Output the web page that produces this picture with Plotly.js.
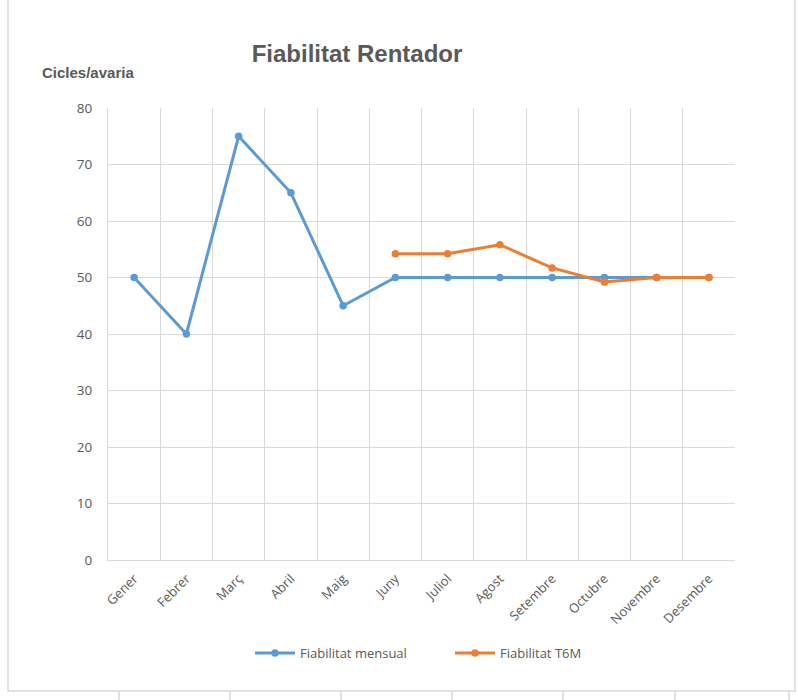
<!DOCTYPE html>
<html>
<head>
<meta charset="utf-8">
<script src="https://cdn.plot.ly/plotly-3.0.1.min.js"></script>
<style>html,body{margin:0;padding:0;background:#fff;}#chart{width:798px;height:700px;}</style>
</head>
<body>
<div id="chart"></div>
<script>
const months = ["Gener","Febrer","Març","Abril","Maig","Juny","Juliol","Agost","Setembre","Octubre","Novembre","Desembre"];
const mensual = [50, 40, 75, 65, 45, 50, 50, 50, 50, 50, 50, 50];
const t6mMonths = ["Juny","Juliol","Agost","Setembre","Octubre","Novembre","Desembre"];
const t6m = [54.2, 54.2, 55.8, 51.7, 49.2, 50, 50];
const yTicks = [0, 10, 20, 30, 40, 50, 60, 70, 80];

const W = 798, H = 700, L = 108, R = 63, T = 108, B = 140;
const pw = W - L - R, ph = H - T - B;
const px = x => (x - L) / pw;
const py = y => (H - B - y) / ph;

const gridC = "#d9d9d9";
const txtC = "#595959";

const traces = [
  {x: months, y: mensual, name: "Fiabilitat mensual", type: "scatter", mode: "lines+markers",
   line: {color: "#5b9bd5", width: 3}, marker: {color: "#5b9bd5", size: 7.5}},
  {x: t6mMonths, y: t6m, name: "Fiabilitat T6M", type: "scatter", mode: "lines+markers",
   line: {color: "#ed7d31", width: 3}, marker: {color: "#ed7d31", size: 7.5}}
];

const shapes = [
  {type: "rect", xref: "paper", yref: "paper", x0: px(8), x1: px(795), y0: py(691), y1: py(-5),
   line: {color: gridC, width: 1.5}, fillcolor: "rgba(0,0,0,0)", layer: "below"}
];
[119, 230, 341, 452, 563, 675, 789].forEach(xx => {
  shapes.push({type: "line", xref: "paper", yref: "paper", x0: px(xx), x1: px(xx), y0: py(691), y1: py(705),
    line: {color: gridC, width: 1.5}});
});

const layout = {
  width: W, height: H,
  margin: {l: L, r: R, t: T, b: B},
  paper_bgcolor: "#fff", plot_bgcolor: "#fff",
  font: {family: "Open Sans, Noto Sans, sans-serif", color: txtC, size: 12},
  title: {text: "<b>Fiabilitat Rentador</b>", xref: "paper", x: px(357), xanchor: "center",
    yref: "paper", y: py(53), yanchor: "middle",
    font: {family: "Liberation Sans Narrow, Liberation Sans, sans-serif", size: 24, color: txtC}},
  xaxis: {type: "category", categoryorder: "array", categoryarray: months,
    range: [-0.5, 11.5], tickson: "boundaries", showgrid: true, gridcolor: gridC, gridwidth: 1,
    ticks: "", tickangle: -45, showline: true, linecolor: gridC, linewidth: 1,
    tickfont: {size: 13, color: txtC}, zeroline: false, fixedrange: true, ticklabelstandoff: 5},
  yaxis: {range: [0, 80], tickvals: yTicks, showgrid: true, gridcolor: gridC, gridwidth: 1,
    ticks: "", showline: true, linecolor: gridC, linewidth: 1, zeroline: false,
    tickfont: {size: 13.5, color: txtC}, ticklabelstandoff: 12},
  legend: {orientation: "h", x: px(250), xanchor: "left", y: py(653), yanchor: "middle",
    font: {size: 13, color: txtC}, itemwidth: 40, traceorder: "normal", entrywidth: 145},
  annotations: [
    {text: "<b>Cicles/avaria</b>", xref: "paper", yref: "paper", x: px(40), y: py(73),
     xanchor: "left", yanchor: "middle", showarrow: false,
     font: {family: "Liberation Sans Narrow, Liberation Sans, sans-serif", size: 15, color: txtC}}
  ],
  shapes: shapes,
  showlegend: true
};

Plotly.newPlot("chart", traces, layout, {displayModeBar: false, staticPlot: true});
</script>
</body>
</html>
